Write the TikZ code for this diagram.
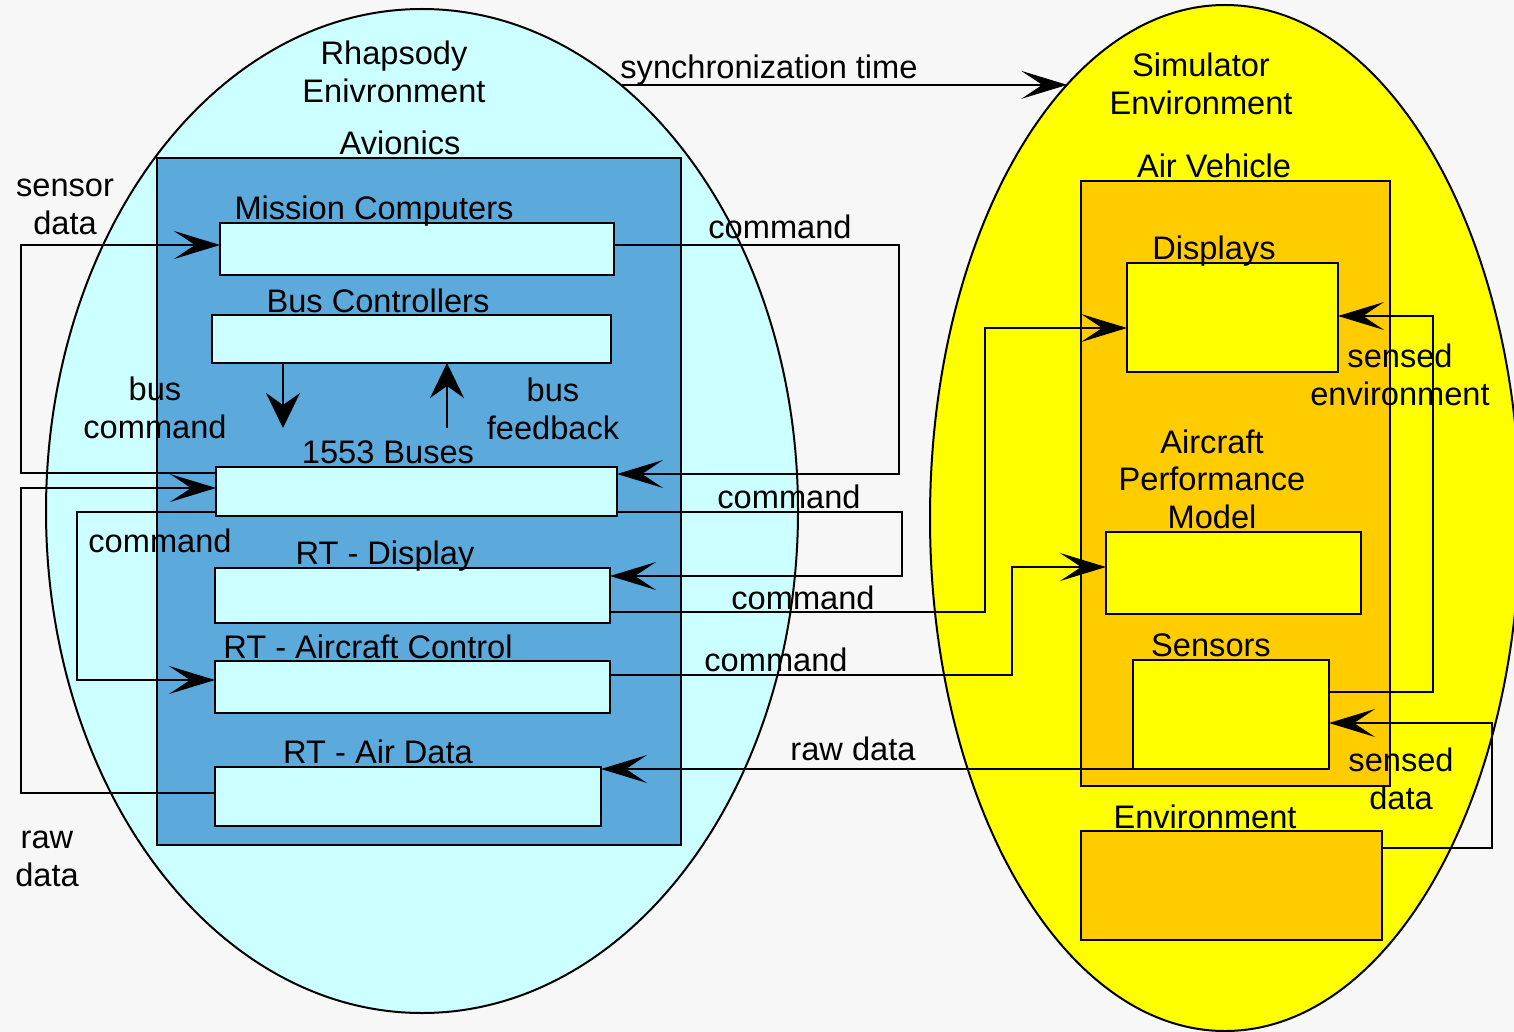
\documentclass[tikz,border=0pt]{standalone}
\usepackage{fontspec}
\setmainfont{Liberation Sans}
\usetikzlibrary{arrows.meta,shapes.geometric}

\definecolor{bgpaper}{HTML}{F7F7F7}
\definecolor{rhapfill}{HTML}{CCFFFF}
\definecolor{avfill}{HTML}{5CAADC}
\definecolor{simfill}{HTML}{FFFF00}
\definecolor{vehfill}{HTML}{FFCC00}

\newcommand\lblfont{\fontsize{32.6}{37.5}\selectfont}

\begin{document}
\begin{tikzpicture}[x=1pt,y=-1pt,
  lbl/.style={font=\lblfont, align=center, inner sep=0pt},
  envshape/.style={ellipse, draw, line width=2pt, inner sep=0pt, outer sep=0pt},
  box/.style={rectangle, draw, line width=1.8pt, anchor=north west, inner sep=0pt, outer sep=0pt},
  flow/.style={line width=1.3pt, -{Stealth[length=46pt,width=28pt,inset=21pt]}},
  busflow/.style={line width=1.8pt, -{Stealth[length=35pt,width=34pt,inset=12pt]}},
  ]
  % page and background
  \useasboundingbox (0,0) rectangle (1514,1032);
  \clip (0,0) rectangle (1514,1032);
  \fill[bgpaper] (0,0) rectangle (1514,1032);

  % the two environments
  \node[envshape, fill=rhapfill, minimum width=752pt, minimum height=1004pt] (rhap) at (422,511) {};
  \node[envshape, fill=simfill, minimum width=590pt, minimum height=1026pt] (sim) at (1225,518) {};

  % avionics side
  \node[box, fill=avfill, minimum width=524pt, minimum height=687pt] (av) at (157,158) {};
  \node[box, fill=rhapfill, minimum width=394pt, minimum height=52pt] (mc) at (220,223) {};
  \node[box, fill=rhapfill, minimum width=399pt, minimum height=48pt] (bc) at (212,315) {};
  \node[box, fill=rhapfill, minimum width=401pt, minimum height=49pt] (bus) at (216,467) {};
  \node[box, fill=rhapfill, minimum width=395pt, minimum height=55pt] (rtd) at (215,568) {};
  \node[box, fill=rhapfill, minimum width=395pt, minimum height=52pt] (rtac) at (215,661) {};
  \node[box, fill=rhapfill, minimum width=386pt, minimum height=59pt] (rtad) at (215,767) {};

  % simulator side
  \node[box, fill=vehfill, minimum width=309pt, minimum height=605pt] (veh) at (1081,181) {};
  \node[box, fill=simfill, minimum width=211pt, minimum height=109pt] (disp) at (1127,263) {};
  \node[box, fill=simfill, minimum width=255pt, minimum height=82pt] (apm) at (1106,532) {};
  \node[box, fill=simfill, minimum width=196pt, minimum height=109pt] (sens) at (1133,660) {};
  \node[box, fill=vehfill, minimum width=301pt, minimum height=109pt] (env) at (1081,831) {};

  % bus controller arrows
  \coordinate (bcmd) at (283,428);
  \coordinate (bfb) at (447,428);
  \draw[busflow] (bc.south -| bcmd) -- (bcmd);
  \draw[busflow] (bfb) -- (bfb |- bc.south);

  % connectors inside the Rhapsody environment
  \draw[flow] ([yshift=-6pt]bus.north west) -- ++(-195,0) |- ([yshift=4pt]mc.west);
  \draw[flow] ([yshift=-26pt]rtad.north west) -- ++(-194,0) |- ([yshift=-21pt]bus.north west);
  \draw[flow] ([yshift=-45pt]bus.north west) -- ++(-139,0) |- ([yshift=-19pt]rtac.north west);
  \draw[flow] ([yshift=-22pt]mc.north east) -- ++(285,0) |- ([yshift=-7pt]bus.north east);
  \draw[flow] ([yshift=-45pt]bus.north east) -- ++(285,0) |- ([yshift=-8pt]rtd.north east);

  % connectors between the environments
  \draw[flow] ([yshift=-44pt]rtd.north east) -- ++(375,0) |- ([yshift=-65pt]disp.north west);
  \draw[flow] ([yshift=-14pt]rtac.north east) -- ++(402,0) |- ([yshift=-35pt]apm.north west);
  \draw[flow] (sens.south west) -- (sens.south west -| rtad.north east);
  \draw[flow] (rhap.65) -- (rhap.65 -| sim.110);

  % connectors inside the simulator
  \draw[flow] ([yshift=-32pt]sens.north east) -- ++(104,0) |- ([yshift=-53pt]disp.north east);
  \draw[flow] ([yshift=-17pt]env.north east) -- ++(110,0) |- ([yshift=-63pt]sens.north east);

  % labels
  \node[lbl] (tRhap) at (394,76) {\strut Rhapsody\\\strut Enivronment};
  \node[lbl] (tAv) at (400,147.5) {\strut Avionics};
  \node[lbl] (tMc) at (374,212.5) {\strut Mission Computers};
  \node[lbl] (tBc) at (378,304.5) {\strut Bus Controllers};
  \node[lbl] (tBcmd) at (155,412) {\strut bus\\\strut command};
  \node[lbl] (tBfb) at (553,413) {\strut bus\\\strut feedback};
  \node[lbl] (tBus) at (388,455.5) {\strut 1553 Buses};
  \node[lbl] (tCmdL) at (160,544.5) {\strut command};
  \node[lbl] (tRtd) at (385,556.5) {\strut RT - Display};
  \node[lbl] (tRtac) at (368,650.5) {\strut RT - Aircraft Control};
  \node[lbl] (tRtad) at (378,755.5) {\strut RT - Air Data};
  \node[lbl] (tSens) at (65,208) {\strut sensor\\\strut data};
  \node[lbl] (tRawL) at (47,860) {\strut raw\\\strut data};
  \node[lbl] (tCmdA) at (780,231.5) {\strut command};
  \node[lbl] (tCmdB) at (789,500.5) {\strut command};
  \node[lbl] (tCmdC) at (803,601.5) {\strut command};
  \node[lbl] (tCmdD) at (776,663.5) {\strut command};
  \node[lbl] (tRawR) at (853,752.5) {\strut raw data};
  \node[lbl] (tSync) at (769,71.5) {\strut synchronization time};
  \node[lbl] (tSim) at (1201,88) {\strut Simulator\\\strut Environment};
  \node[lbl] (tVeh) at (1214,170.5) {\strut Air Vehicle};
  \node[lbl] (tDisp) at (1214,251.5) {\strut Displays};
  \node[lbl] (tSenv) at (1400,379) {\strut sensed\\\strut environment};
  \node[lbl] (tApm) at (1212,483) {\strut Aircraft\\\strut Performance\\\strut Model};
  \node[lbl] (tSensors) at (1211,648.5) {\strut Sensors};
  \node[lbl] (tSdata) at (1401,783) {\strut sensed\\\strut data};
  \node[lbl] (tEnv) at (1205,820.5) {\strut Environment};
\end{tikzpicture}
\end{document}
